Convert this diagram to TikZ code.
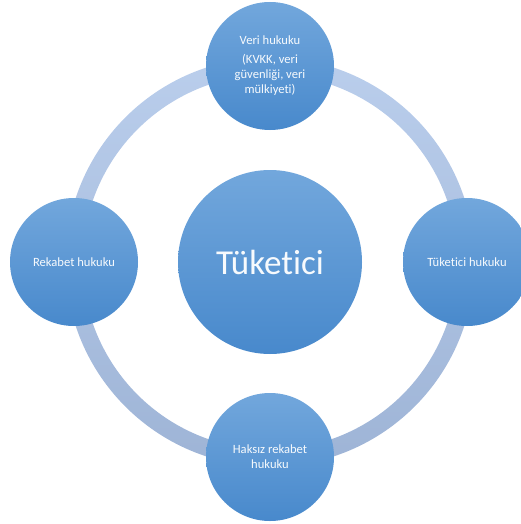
\documentclass[tikz,border=0pt]{standalone}
\usepackage{fontspec}
\setmainfont[Ligatures=NoCommon]{Carlito}
\definecolor{balltop}{RGB}{114,167,220}
\definecolor{ballbot}{RGB}{72,137,204}
\definecolor{ringtop}{RGB}{186,206,236}
\definecolor{ringbot}{RGB}{158,180,214}
\begin{document}
\begin{tikzpicture}[x=1pt,y=-1pt,
  ball/.style={circle,inner sep=0pt,minimum size=128pt,top color=balltop,bottom color=ballbot,
    text=white!94!balltop,align=center,font=\fontsize{12.6}{15}\selectfont},
  hub/.style={ball,minimum size=184pt,font=\fontsize{35}{42}\selectfont}]
\useasboundingbox (0,0) rectangle (521,524);
\clip (0,0) rectangle (521,524);
\shade[top color=ringtop,bottom color=ringbot,even odd rule] (270,262) circle (204.5pt) circle (187.5pt);
\node[hub] (c) at (270,262) {Tüketici};
\node[ball] (v) at (270,66) {Veri hukuku\\[4pt](KVKK, veri\\güvenliği, veri\\mülkiyeti)};
\node[ball] (r) at (74,262) {Rekabet hukuku};
\node[ball] (t) at (467,262) {Tüketici hukuku};
\node[ball] (h) at (270,457) {Haksız rekabet\\hukuku};
\end{tikzpicture}
\end{document}
